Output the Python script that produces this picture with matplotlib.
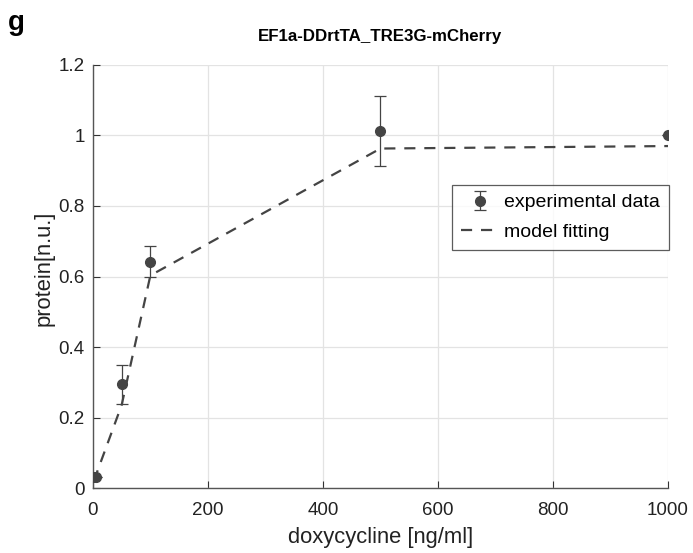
import matplotlib.pyplot as plt
import numpy as np

plt.rcParams['font.family'] = ['Liberation Sans', 'DejaVu Sans']

# experimental data
dox = [0, 5, 50, 100, 500, 1000]
protein = [0.03, 0.03, 0.294, 0.642, 1.013, 1.0]
protein_err = [0.0, 0.0, 0.055, 0.044, 0.1, 0.0]

# model fitting
model_dox = [0, 5, 50, 100, 500, 1000]
model_protein = [0.022, 0.035, 0.235, 0.603, 0.963, 0.97]

dark = "#444444"

fig = plt.figure(figsize=(6.93, 5.53), dpi=100)
ax = fig.add_axes([0.134, 0.1175, 0.83, 0.765])

ax.grid(True, color="#e3e3e3", linewidth=0.9)
ax.set_axisbelow(True)

eb = ax.errorbar(dox, protein, yerr=protein_err, fmt="o", color=dark, ms=7,
                 ecolor=dark, elinewidth=0.9, capsize=4, capthick=0.9,
                 zorder=3)
ln, = ax.plot(model_dox, model_protein, "--", color=dark, lw=1.6,
              dashes=(5, 4), zorder=2)

ax.set_xlim(0, 1000)
ax.set_ylim(0, 1.2)
ax.set_xticks([0, 200, 400, 600, 800, 1000])
ax.set_yticks([0, 0.2, 0.4, 0.6, 0.8, 1.0, 1.2])
ax.set_yticklabels(["0", "0.2", "0.4", "0.6", "0.8", "1", "1.2"])

for s in ["top", "right"]:
    ax.spines[s].set_visible(False)
for s in ["left", "bottom"]:
    ax.spines[s].set_color("#555555")
    ax.spines[s].set_linewidth(1.0)
ax.tick_params(direction="in", length=5, color="#333333",
               labelsize=13.5, labelcolor="#222222")
ax.tick_params(axis="x", pad=10)
ax.tick_params(axis="y", pad=6)

ax.set_xlabel("doxycycline [ng/ml]", fontsize=15.8, color="#222222", labelpad=6)
ax.set_ylabel("protein[n.u.]", fontsize=15.8, color="#222222")
ax.yaxis.set_label_coords(-0.066, 0.52)
ax.set_title("EF1a-DDrtTA_TRE3G-mCherry", fontsize=12.2, fontweight="bold",
             pad=17)
fig.text(0.012, 0.945, "g", fontsize=20, fontweight="bold")

leg = ax.legend([eb, ln], ["experimental data", "model fitting"],
                loc="upper left", bbox_to_anchor=(0.624, 0.716),
                fontsize=14, frameon=True, fancybox=False,
                handlelength=2.0, handletextpad=0.25, borderpad=0.45,
                borderaxespad=0, labelspacing=0.6)
leg.get_frame().set_edgecolor("#333333")
leg.get_frame().set_linewidth(0.9)

fig.savefig("out.png", dpi=100)
